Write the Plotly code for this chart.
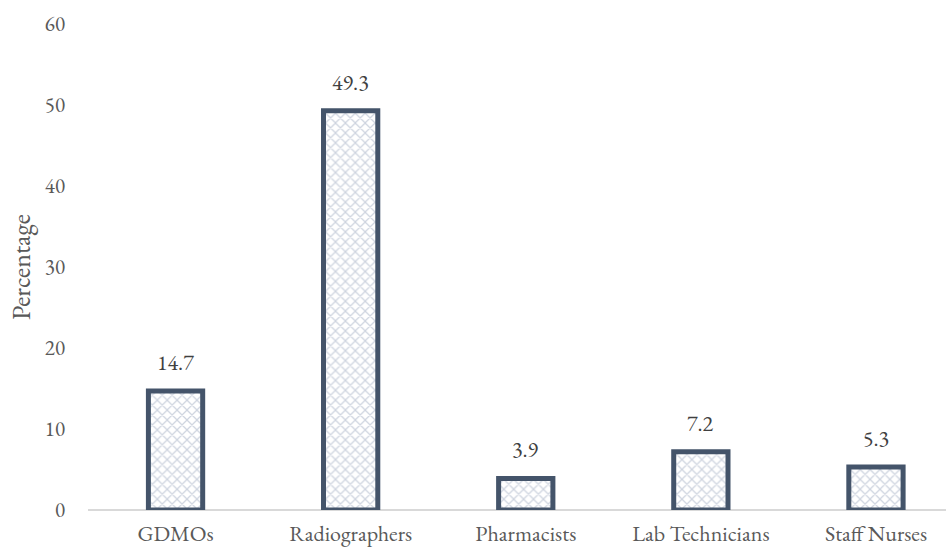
import plotly.graph_objects as go

categories = ["GDMOs", "Radiographers", "Pharmacists", "Lab Technicians", "Staff Nurses"]
percentages = [14.7, 49.3, 3.9, 7.2, 5.3]
y_ticks = [0, 10, 20, 30, 40, 50, 60]

font_family = "EB Garamond, Garamond, Liberation Serif, serif"
text_grey = "#595959"
font_size = 22

fig = go.Figure(
    go.Bar(
        x=categories,
        y=percentages,
        width=0.31,
        cliponaxis=False,
        marker=dict(
            color="white",
            line=dict(color="#44546A", width=5),
            pattern=dict(
                shape="x",
                fgcolor="#9DA9BF",
                bgcolor="white",
                size=7,
                solidity=0.32,
                fillmode="overlay",
            ),
        ),
    )
)

# value labels sitting above each bar
for cat, val in zip(categories, percentages):
    fig.add_annotation(
        x=cat,
        y=val,
        text=f"{val:.1f}",
        showarrow=False,
        yanchor="bottom",
        yshift=12,
        font=dict(family=font_family, size=font_size, color="#404040"),
    )

fig.update_layout(
    width=946,
    height=557,
    margin=dict(l=88, r=0, t=24, b=47),
    paper_bgcolor="white",
    plot_bgcolor="white",
    showlegend=False,
    font=dict(family=font_family, size=font_size, color=text_grey),
    xaxis=dict(
        range=[-0.5, 4.4],
        showgrid=False,
        showline=False,
        zeroline=False,
        ticks="",
        ticklabelstandoff=8,
        tickfont=dict(family=font_family, size=font_size, color=text_grey),
    ),
    yaxis=dict(
        range=[0, 60],
        tickvals=y_ticks,
        showgrid=False,
        showline=False,
        zeroline=True,
        zerolinecolor="#D9D9D9",
        zerolinewidth=1.5,
        ticks="",
        ticklabelstandoff=22,
        tickfont=dict(family=font_family, size=21, color=text_grey),
        title=dict(
            text="Percentage",
            standoff=6,
            font=dict(family=font_family, size=26, color=text_grey),
        ),
    ),
)

fig.write_html("out.html")
